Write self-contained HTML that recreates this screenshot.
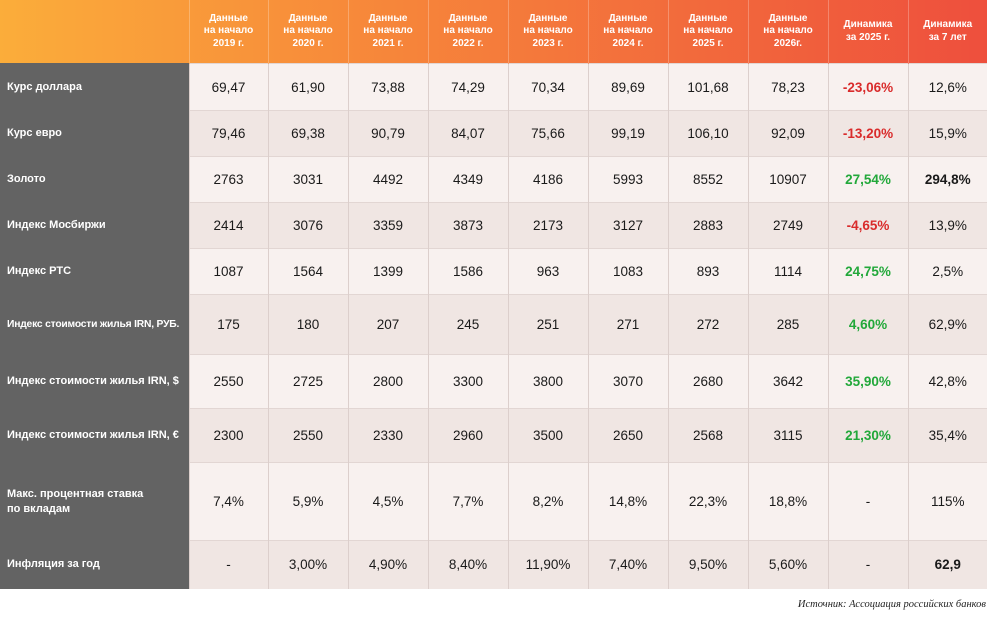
<!DOCTYPE html>
<html><head><meta charset="utf-8"><style>
body{margin:0;width:1000px;height:620px;background:#fff;font-family:"Liberation Sans",sans-serif;position:relative;overflow:hidden}
table{position:absolute;left:0;top:0;border-collapse:collapse;table-layout:fixed;width:987px}
td{padding:0;text-align:center;font-size:13.5px;color:#1a1a1a;border-left:1px solid #dccfcc;border-top:1px solid #e2d6d3}
tr.h td{height:63px;color:#fff;font-weight:bold;font-size:10px;line-height:12.5px;border:none;border-left:1px solid rgba(255,255,255,0.25)}
tr.h td:first-child{border-left:none}
td.l{background:#636363;color:#fff;font-weight:bold;text-align:left;padding-left:7px;font-size:11px;line-height:15px;border:none;border-top:1px solid #636363;white-space:nowrap}
td.s{font-size:10.3px;letter-spacing:-0.2px}
tr.a td:not(.l){background:#f8f1ef}
tr.b td:not(.l){background:#f0e6e3}
.r{color:#d92b2b;font-weight:bold}.g{color:#22a83a;font-weight:bold}.bo{font-weight:bold}
.src{position:absolute;right:14px;top:599px;font-family:"Liberation Serif",serif;font-style:italic;font-size:10.5px;color:#222}
</style></head><body>
<table>
<colgroup><col style="width:189px"><col style="width:79px"><col style="width:80px"><col style="width:80px"><col style="width:80px"><col style="width:80px"><col style="width:80px"><col style="width:80px"><col style="width:80px"><col style="width:80px"><col style="width:79px"></colgroup>
<tr class="h" style="background:linear-gradient(90deg,#fbad3a 0%,#f78a3a 35%,#f26a3c 70%,#ee4f3d 100%)"><td></td><td>Данные<br>на начало<br>2019 г.</td><td>Данные<br>на начало<br>2020 г.</td><td>Данные<br>на начало<br>2021 г.</td><td>Данные<br>на начало<br>2022 г.</td><td>Данные<br>на начало<br>2023 г.</td><td>Данные<br>на начало<br>2024 г.</td><td>Данные<br>на начало<br>2025 г.</td><td>Данные<br>на начало<br>2026г.</td><td>Динамика<br>за 2025 г.</td><td>Динамика<br>за 7 лет</td></tr>
<tr class="a" style="height:47px"><td class="l">Курс доллара</td><td>69,47</td><td>61,90</td><td>73,88</td><td>74,29</td><td>70,34</td><td>89,69</td><td>101,68</td><td>78,23</td><td class="r">-23,06%</td><td>12,6%</td></tr>
<tr class="b" style="height:46px"><td class="l">Курс евро</td><td>79,46</td><td>69,38</td><td>90,79</td><td>84,07</td><td>75,66</td><td>99,19</td><td>106,10</td><td>92,09</td><td class="r">-13,20%</td><td>15,9%</td></tr>
<tr class="a" style="height:46px"><td class="l">Золото</td><td>2763</td><td>3031</td><td>4492</td><td>4349</td><td>4186</td><td>5993</td><td>8552</td><td>10907</td><td class="g">27,54%</td><td class="bo">294,8%</td></tr>
<tr class="b" style="height:46px"><td class="l">Индекс Мосбиржи</td><td>2414</td><td>3076</td><td>3359</td><td>3873</td><td>2173</td><td>3127</td><td>2883</td><td>2749</td><td class="r">-4,65%</td><td>13,9%</td></tr>
<tr class="a" style="height:46px"><td class="l">Индекс РТС</td><td>1087</td><td>1564</td><td>1399</td><td>1586</td><td>963</td><td>1083</td><td>893</td><td>1114</td><td class="g">24,75%</td><td>2,5%</td></tr>
<tr class="b" style="height:60px"><td class="l s">Индекс стоимости жилья IRN, РУБ.</td><td>175</td><td>180</td><td>207</td><td>245</td><td>251</td><td>271</td><td>272</td><td>285</td><td class="g">4,60%</td><td>62,9%</td></tr>
<tr class="a" style="height:54px"><td class="l">Индекс стоимости жилья IRN, $</td><td>2550</td><td>2725</td><td>2800</td><td>3300</td><td>3800</td><td>3070</td><td>2680</td><td>3642</td><td class="g">35,90%</td><td>42,8%</td></tr>
<tr class="b" style="height:54px"><td class="l">Индекс стоимости жилья IRN, €</td><td>2300</td><td>2550</td><td>2330</td><td>2960</td><td>3500</td><td>2650</td><td>2568</td><td>3115</td><td class="g">21,30%</td><td>35,4%</td></tr>
<tr class="a" style="height:78px"><td class="l">Макс. процентная ставка<br>по вкладам</td><td>7,4%</td><td>5,9%</td><td>4,5%</td><td>7,7%</td><td>8,2%</td><td>14,8%</td><td>22,3%</td><td>18,8%</td><td>-</td><td>115%</td></tr>
<tr class="b" style="height:48px"><td class="l">Инфляция за год</td><td>-</td><td>3,00%</td><td>4,90%</td><td>8,40%</td><td>11,90%</td><td>7,40%</td><td>9,50%</td><td>5,60%</td><td>-</td><td class="bo">62,9</td></tr>
</table>
<div class="src">Источник: Ассоциация российских банков</div>
</body></html>
